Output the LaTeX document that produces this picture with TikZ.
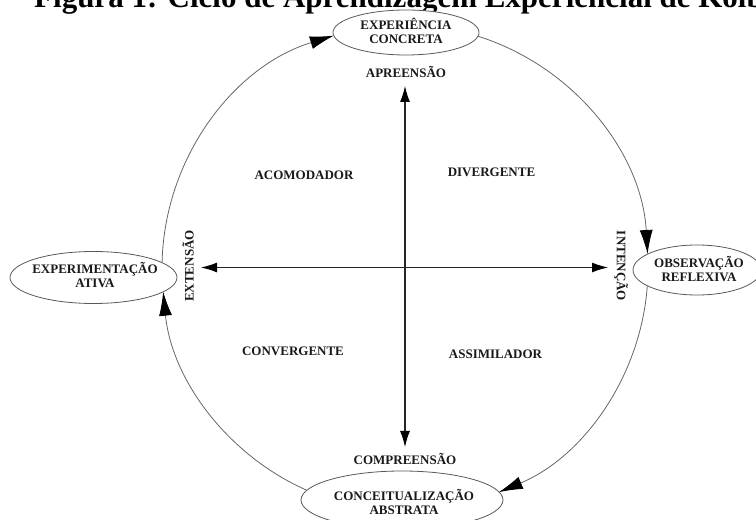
\documentclass[tikz,border=0pt]{standalone}
\usepackage{fontspec}
\setmainfont{Liberation Serif}
\usetikzlibrary{shapes.geometric,arrows.meta}
\begin{document}
\begin{tikzpicture}[x=1pt,y=1pt,
  lbl/.style={font=\bfseries\fontsize{13}{14.5}\selectfont, text=black!90, align=center, inner sep=0pt},
  oval/.style={ellipse, draw=black!65, line width=0.8pt, fill=white, inner sep=0pt},
  cyc/.style={draw=black!60, line width=0.8pt, -{Latex[length=24pt,width=13pt,color=black]}},
  axis/.style={draw=black!85, line width=1.1pt, {Latex[length=16pt,width=10pt,color=black]}-{Latex[length=16pt,width=10pt,color=black]}}
]
\useasboundingbox (0,0) rectangle (756,520);
% title (cut at top edge)
\node[anchor=base west, inner sep=0pt, font=\bfseries\fontsize{31}{33}\selectfont] (title) at (34,512) {Figura 1: Ciclo de Aprendizagem Experiencial de Kolb};
% circle centre
\coordinate (C) at (405,252);
% arc end points on the circle (r = 243)
\coordinate (a1) at ([shift={(178.7:243)}]C);
\coordinate (b1) at ([shift={(72.5:243)}]C);
\coordinate (c1) at ([shift={(-4.2:243)}]C);
\coordinate (d1) at ([shift={(246.2:243)}]C);
% cycle arcs
\draw[cyc] (a1) arc[start angle=178.7, end angle=107, radius=243];
\draw[cyc] (b1) arc[start angle=72.5, end angle=3.3, radius=243];
\draw[cyc] (c1) arc[start angle=-4.2, end angle=-67.3, radius=243];
\draw[cyc] (d1) arc[start angle=246.2, end angle=185.6, radius=243];
% ellipses
\node[oval, minimum width=146pt, minimum height=45pt] (e1) at (406,487.5) {};
\node[oval, minimum width=128pt, minimum height=50pt] (e2) at (697,250) {};
\node[oval, minimum width=202pt, minimum height=58pt] (e3) at (402,20) {};
\node[oval, minimum width=167pt, minimum height=52pt] (e4) at (93.5,242.5) {};
\node[lbl] (t1) at (406,489) {EXPERIÊNCIA\\CONCRETA};
\node[lbl] (t2) at (699,251) {OBSERVAÇÃO\\REFLEXIVA};
\node[lbl] (t3) at (404,18) {CONCEITUALIZAÇÃO\\ABSTRATA};
\node[lbl] (t4) at (95,245) {EXPERIMENTAÇÃO\\ATIVA};
% axes
\coordinate (vtop) at (405,434);
\coordinate (vbot) at (405,73);
\coordinate (hl) at (201,252.5);
\coordinate (hr) at (608,252.5);
\draw[axis] (vtop) -- (vbot);
\draw[axis] (hl) -- (hr);
% axis labels
\node[lbl, anchor=base] (apr) at (406,442) {APREENSÃO};
\node[lbl, anchor=base] (comp) at (405,55) {COMPREENSÃO};
\node[lbl, rotate=90] (ext) at (188,254) {EXTENSÃO};
\node[lbl, rotate=-90] (int) at (621,254) {INTENÇÃO};
% quadrant labels
\node[lbl] (q1) at (304,345) {ACOMODADOR};
\node[lbl] (q2) at (491.5,347.5) {DIVERGENTE};
\node[lbl] (q3) at (293,168.5) {CONVERGENTE};
\node[lbl] (q4) at (495.5,166) {ASSIMILADOR};
\end{tikzpicture}
\end{document}
